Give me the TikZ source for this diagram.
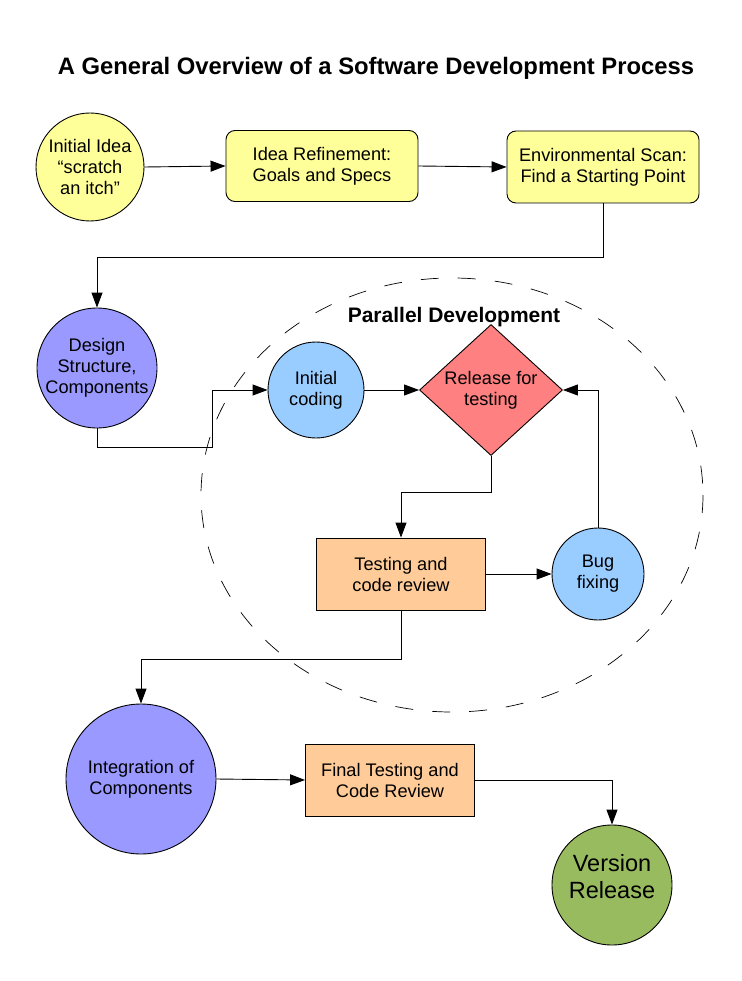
\documentclass[tikz,border=0pt]{standalone}
\usepackage{fontspec}
\setmainfont{Liberation Sans}
\usetikzlibrary{shapes.geometric,arrows.meta}
\definecolor{cyellow}{HTML}{FFFF99}
\definecolor{cpurple}{HTML}{9999FF}
\definecolor{cblue}{HTML}{99CCFF}
\definecolor{cred}{HTML}{FF8080}
\definecolor{corange}{HTML}{FFCC99}
\definecolor{cgreen}{HTML}{99BB5F}
\tikzset{
  base/.style={draw=black, line width=0.9pt, align=center, inner sep=0pt,
    font=\fontsize{18.2}{21}\selectfont},
  circ/.style={base, circle},
  rbox/.style={base, rectangle, rounded corners=9pt},
  sbox/.style={base, rectangle},
  conn/.style={line width=0.9pt, -{Triangle[length=15pt,width=11pt]}},
}
\begin{document}
\begin{tikzpicture}[x=1pt,y=-1pt]
\useasboundingbox (0,0) rectangle (741,981);
\fill[white] (0,0) rectangle (741,981);
\node[font=\fontsize{23.8}{27}\selectfont\bfseries, anchor=base] (title) at (376,75) {A General Overview of a Software Development Process};
\draw[line width=0.7pt, dash pattern=on 18pt off 19pt] (452,495) ellipse [x radius=251, y radius=217];
\node[font=\fontsize{21}{24}\selectfont\bfseries, anchor=base] (par) at (454,322) {Parallel Development};

\node[circ, fill=cyellow, minimum size=108pt] (idea) at (90,167) {Initial Idea\\“scratch\\an itch”};
\node[rbox, fill=cyellow, minimum width=192pt, minimum height=71pt] (refine) at (322,166) {Idea Refinement:\\Goals and Specs};
\node[rbox, fill=cyellow, minimum width=192pt, minimum height=72pt] (scan) at (603,167) {Environmental Scan:\\Find a Starting Point};
\node[circ, fill=cpurple, minimum size=120pt] (design) at (97,368) {Design\\Structure,\\Components};
\node[circ, fill=cblue, minimum size=96pt] (code) at (316,390) {Initial\\coding};
\node[base, diamond, fill=cred, minimum width=143pt, minimum height=115pt] (rel) at (491,390) {Release for\\testing};
\node[sbox, fill=corange, minimum width=169pt, minimum height=72pt] (test) at (401,574) {Testing and\\code review};
\node[circ, fill=cblue, minimum size=92pt] (bug) at (598,574) {Bug\\fixing};
\node[circ, fill=cpurple, minimum size=150pt] (integ) at (141,779) {Integration of\\Components};
\node[sbox, fill=corange, minimum width=169pt, minimum height=72pt] (final) at (390,780) {Final Testing and\\Code Review};
\node[circ, fill=cgreen, minimum size=120pt, text depth=17pt, font=\fontsize{23.5}{27}\selectfont] (ver) at (612,885) {Version\\Release};

\draw[conn] (idea.east) -- (refine.west);
\draw[conn] (refine.east) -- (scan.west);
\draw[conn] (scan.south) |- (97,257) -- (design.north);
\draw[conn] (design.south) |- (212,447) |- (code.west);
\draw[conn] (code.east) -- (rel.west);
\draw[conn] (rel.south) |- (401,492) -- (test.north);
\draw[conn] (test.east) -- (bug.west);
\draw[conn] (bug.north) |- (rel.east);
\draw[conn] (test.south) |- (141,659) -- (integ.north);
\draw[conn] (integ.east) -- (final.west);
\draw[conn] (final.east) -| (ver.north);
\end{tikzpicture}
\end{document}
